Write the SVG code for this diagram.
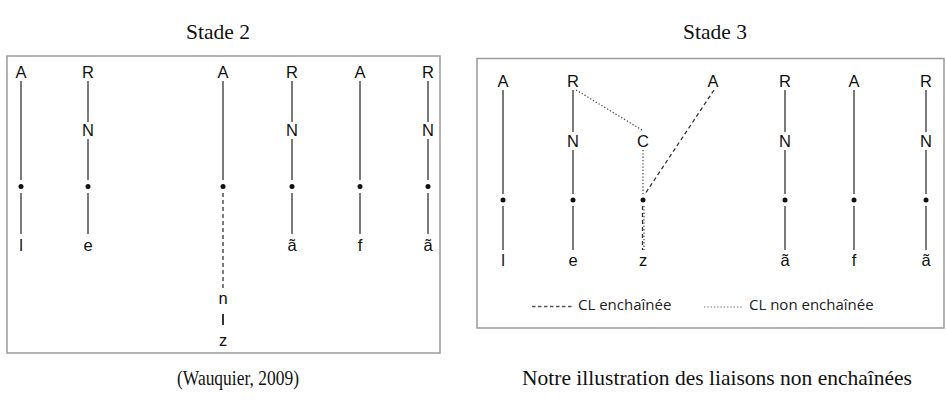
<svg xmlns="http://www.w3.org/2000/svg" width="946" height="400" viewBox="0 0 946 400">
<style>
.frame{fill:#fff;stroke:#9a9a9a;stroke-width:1.5}
.t{font-family:"Liberation Serif",serif;font-size:21.5px;fill:#111;text-anchor:middle}
.l{font-family:"Liberation Sans",Arial,sans-serif;font-size:16.5px;fill:#111;text-anchor:middle}
.lg{font-family:"Open Sans","Noto Sans",sans-serif;font-size:15px;fill:#222}
.s{stroke:#333;stroke-width:1.3;fill:none}
.d{stroke:#333;stroke-width:1.3;fill:none;stroke-dasharray:4 3}
.o{stroke:#444;stroke-width:1.2;fill:none;stroke-dasharray:1.3 2}
.dot{fill:#111}
</style>
<rect width="946" height="400" fill="#fff"/>
<text class="t" x="218" y="39">Stade 2</text>
<text class="t" x="715" y="39">Stade 3</text>
<text class="t" x="238" y="385" textLength="122" lengthAdjust="spacingAndGlyphs">(Wauquier, 2009)</text>
<text class="t" x="717" y="385">Notre illustration des liaisons non enchaînées</text>

<rect class="frame" x="7" y="56" width="433" height="297"/>
<rect class="frame" x="477" y="58.5" width="467" height="269.5"/>

<g id="connectors">
<!-- Stade 2 -->
<line class="s" x1="21" y1="81" x2="21" y2="180"/>
<line class="s" x1="21" y1="193" x2="21" y2="234"/>
<line class="s" x1="88" y1="81" x2="88" y2="122"/>
<line class="s" x1="88" y1="139" x2="88" y2="180"/>
<line class="s" x1="88" y1="193" x2="88" y2="234"/>
<line class="s" x1="223" y1="81" x2="223" y2="180"/>
<line class="d" x1="223" y1="193" x2="223" y2="288"/>
<line class="s" x1="223" y1="314" x2="223" y2="325" style="stroke:#111;stroke-width:1.7"/>
<line class="s" x1="292" y1="81" x2="292" y2="122"/>
<line class="s" x1="292" y1="139" x2="292" y2="180"/>
<line class="s" x1="292" y1="193" x2="292" y2="234"/>
<line class="s" x1="360" y1="81" x2="360" y2="180"/>
<line class="s" x1="360" y1="193" x2="360" y2="234"/>
<line class="s" x1="428" y1="81" x2="428" y2="122"/>
<line class="s" x1="428" y1="139" x2="428" y2="180"/>
<line class="s" x1="428" y1="193" x2="428" y2="234"/>
<!-- Stade 3 -->
<line class="s" x1="503" y1="90" x2="503" y2="194"/>
<line class="s" x1="503" y1="206" x2="503" y2="250"/>
<line class="s" x1="573" y1="90" x2="573" y2="132"/>
<line class="s" x1="573" y1="150" x2="573" y2="194"/>
<line class="s" x1="573" y1="206" x2="573" y2="250"/>
<line class="o" x1="576" y1="90" x2="642" y2="130"/>
<line class="o" x1="643" y1="150" x2="643" y2="194"/>
<line class="d" x1="714" y1="90" x2="645" y2="194"/>
<line class="d" x1="642.5" y1="206" x2="642.5" y2="250"/>
<line class="o" x1="644" y1="206" x2="644" y2="250"/>
<line class="s" x1="785" y1="90" x2="785" y2="132"/>
<line class="s" x1="785" y1="150" x2="785" y2="194"/>
<line class="s" x1="785" y1="206" x2="785" y2="250"/>
<line class="s" x1="854" y1="90" x2="854" y2="194"/>
<line class="s" x1="854" y1="206" x2="854" y2="250"/>
<line class="s" x1="926" y1="90" x2="926" y2="132"/>
<line class="s" x1="926" y1="150" x2="926" y2="194"/>
<line class="s" x1="926" y1="206" x2="926" y2="250"/>
</g>

<g id="stade2-nodes">
<g id="s2-c1"><text class="l" x="21" y="78">A</text><circle class="dot" cx="21" cy="186.5" r="2.5"/><text class="l" x="21" y="251">l</text></g>
<g id="s2-c2"><text class="l" x="88" y="78">R</text><text class="l" x="88" y="136">N</text><circle class="dot" cx="88" cy="186.5" r="2.5"/><text class="l" x="88" y="251">e</text></g>
<g id="s2-c3"><text class="l" x="223" y="78">A</text><circle class="dot" cx="223" cy="186.5" r="2.5"/><text class="l" x="223" y="304">n</text><text class="l" x="223" y="346">z</text></g>
<g id="s2-c4"><text class="l" x="292" y="78">R</text><text class="l" x="292" y="136">N</text><circle class="dot" cx="292" cy="186.5" r="2.5"/><text class="l" x="292" y="251">ã</text></g>
<g id="s2-c5"><text class="l" x="360" y="78">A</text><circle class="dot" cx="360" cy="186.5" r="2.5"/><text class="l" x="360" y="251">f</text></g>
<g id="s2-c6"><text class="l" x="428" y="78">R</text><text class="l" x="428" y="136">N</text><circle class="dot" cx="428" cy="186.5" r="2.5"/><text class="l" x="428" y="251">ã</text></g>
</g>

<g id="stade3-nodes">
<g id="s3-c1"><text class="l" x="503" y="87">A</text><circle class="dot" cx="503" cy="200" r="2.5"/><text class="l" x="503" y="266">l</text></g>
<g id="s3-c2"><text class="l" x="573" y="87">R</text><text class="l" x="573" y="147">N</text><circle class="dot" cx="573" cy="200" r="2.5"/><text class="l" x="573" y="266">e</text></g>
<g id="s3-c3"><text class="l" x="643" y="147">C</text><circle class="dot" cx="643" cy="200" r="2.5"/><text class="l" x="643" y="266">z</text></g>
<g id="s3-c4"><text class="l" x="713" y="87">A</text></g>
<g id="s3-c5"><text class="l" x="785" y="87">R</text><text class="l" x="785" y="147">N</text><circle class="dot" cx="785" cy="200" r="2.5"/><text class="l" x="785" y="266">ã</text></g>
<g id="s3-c6"><text class="l" x="854" y="87">A</text><circle class="dot" cx="854" cy="200" r="2.5"/><text class="l" x="854" y="266">f</text></g>
<g id="s3-c7"><text class="l" x="926" y="87">R</text><text class="l" x="926" y="147">N</text><circle class="dot" cx="926" cy="200" r="2.5"/><text class="l" x="926" y="266">ã</text></g>
</g>

<g id="legend">
<line class="d" x1="532" y1="306.5" x2="572" y2="306.5" style="stroke-dasharray:3.5 2.5;stroke:#555"/>
<text class="lg" x="578" y="310">CL enchaînée</text>
<line class="o" x1="704" y1="307" x2="743" y2="307" style="stroke:#666"/>
<text class="lg" x="749" y="310">CL non enchaînée</text>
</g>
</svg>
